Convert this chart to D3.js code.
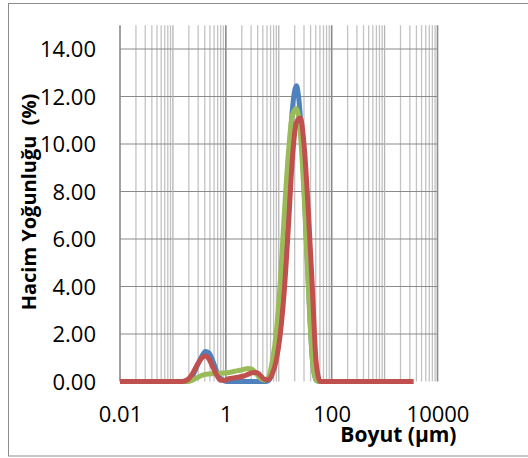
<!DOCTYPE html>
<html>
<head>
<meta charset="utf-8">
<script src="https://cdn.jsdelivr.net/npm/d3@7"></script>
<style>
  body { margin: 0; background: #fff; }
  svg { display: block; font-family: "Open Sans", sans-serif; }
</style>
</head>
<body>
<svg id="chart" width="528" height="458"></svg>
<script>
// particle sizes (µm) and volume density (%) per sample
const sizes = [0.01, 0.1, 0.15, 0.19, 0.23, 0.28, 0.34, 0.41, 0.48, 0.57, 0.68, 0.8, 0.95,
  1.15, 1.4, 1.7, 2.1, 2.6, 3.1, 3.7, 4.4, 5.3, 6.3, 7.5, 9, 10.7, 12.7, 15.2, 18, 21.5,
  25.5, 30.5, 36, 43, 51, 61, 72, 100, 1000, 3500];

const blueValues = [0, 0, 0, 0.02, 0.2, 0.6, 1.0, 1.26, 1.2, 0.85, 0.4, 0.12, 0.02,
  0, 0, 0, 0, 0, 0, 0, 0, 0, 0.03, 0.35, 1.3, 3.0, 5.6, 8.8, 11.4, 12.45,
  11.2, 7.9, 4.3, 1.0, 0.05, 0, 0, 0, 0, 0];

const greenValues = [0, 0, 0, 0, 0.05, 0.15, 0.24, 0.3, 0.32, 0.33, 0.34, 0.35, 0.36,
  0.38, 0.42, 0.46, 0.5, 0.55, 0.52, 0.35, 0.15, 0.05, 0.15, 0.8, 2.1, 4.2, 7.0, 9.6, 11.2, 11.5,
  10.5, 7.6, 4.1, 1.0, 0.05, 0, 0, 0, 0, 0];

const redValues = [0, 0, 0, 0.08, 0.3, 0.65, 0.95, 1.07, 0.95, 0.6, 0.25, 0.05, 0.05,
  0.12, 0.15, 0.18, 0.22, 0.3, 0.37, 0.38, 0.28, 0.1, 0.07, 0.3, 0.9, 2.0, 3.8, 6.5, 9.3, 10.9,
  11.1, 9.8, 7.3, 4.0, 0.8, 0, 0, 0, 0, 0];

const xTicks = [0.01, 1, 100, 10000];
const yTicks = [0, 2, 4, 6, 8, 10, 12, 14];

const series = [
  { name: 'blue', values: blueValues, color: '#4F81BD' },
  { name: 'green', values: greenValues, color: '#9BBB59' },
  { name: 'red', values: redValues, color: '#C0504D' }
];

const svg = d3.select('#chart');
const margin = { top: 25.25, left: 120, right: 90.5, bottom: 76.5 };
const width = 528 - margin.left - margin.right;
const height = 458 - margin.top - margin.bottom;

// chart frame
svg.append('rect')
  .attr('x', 8.5).attr('y', 3.5)
  .attr('width', 530).attr('height', 452.5)
  .attr('fill', 'none')
  .attr('stroke', '#8c8c8c')
  .attr('stroke-width', 1);

const g = svg.append('g')
  .attr('transform', `translate(${margin.left},${margin.top})`);

const x = d3.scaleLog().domain([0.01, 10000]).range([0, width]);
const y = d3.scaleLinear().domain([0, 15]).range([height, 0]);

// minor vertical grid
const minor = [];
for (let e = -2; e < 4; e++) {
  for (let k = 2; k <= 9; k++) minor.push(k * Math.pow(10, e));
}
g.append('g').selectAll('line')
  .data(minor)
  .join('line')
  .attr('x1', d => x(d)).attr('x2', d => x(d))
  .attr('y1', 0).attr('y2', height)
  .attr('stroke', '#c3c3c3')
  .attr('stroke-width', 1.3);

// horizontal grid
g.append('g').selectAll('line')
  .data(yTicks.slice(1))
  .join('line')
  .attr('x1', 0).attr('x2', width)
  .attr('y1', d => y(d)).attr('y2', d => y(d))
  .attr('stroke', '#8a8a8a')
  .attr('stroke-width', 1.2);

// major vertical grid
g.append('g').selectAll('line')
  .data([1e-2, 1e-1, 1, 10, 100, 1000, 10000])
  .join('line')
  .attr('x1', d => x(d)).attr('x2', d => x(d))
  .attr('y1', 0).attr('y2', height)
  .attr('stroke', d => (xTicks.includes(d) ? '#8a8a8a' : '#b5b5b5'))
  .attr('stroke-width', d => (xTicks.includes(d) ? 1.6 : 1.3));

// axes
const xAxis = d3.axisBottom(x).tickValues(xTicks).tickFormat(d => String(d)).tickSize(0).tickPadding(0);
const yAxis = d3.axisLeft(y).tickValues(yTicks).tickFormat(d3.format('.2f')).tickSize(0).tickPadding(0);

const xg = g.append('g').attr('transform', `translate(0,${height})`).call(xAxis);
xg.select('.domain').remove();
xg.selectAll('text')
  .attr('y', 40).attr('dy', 0)
  .attr('fill', '#000')
  .style('font-size', '22px')
  .style('font-family', '"Open Sans", sans-serif');

const yg = g.append('g').call(yAxis);
yg.select('.domain').remove();
yg.selectAll('text')
  .attr('x', -24).attr('dy', '0.35em')
  .attr('fill', '#000')
  .style('font-size', '22px')
  .style('font-family', '"Open Sans", sans-serif');

// series lines
const line = d3.line()
  .x((d, i) => x(sizes[i]))
  .y(d => y(d))
  .curve(d3.curveMonotoneX);

g.append('g').selectAll('path')
  .data(series)
  .join('path')
  .attr('d', d => line(d.values))
  .attr('fill', 'none')
  .attr('stroke', d => d.color)
  .attr('stroke-width', 5)
  .attr('stroke-linejoin', 'round')
  .attr('stroke-linecap', 'butt');

// axis titles
svg.append('text')
  .attr('x', 456.5).attr('y', 441.5)
  .attr('text-anchor', 'end')
  .style('font-size', '21px')
  .style('font-weight', 700)
  .text('Boyut (µm)');

svg.append('text')
  .attr('transform', 'translate(36,202) rotate(-90)')
  .attr('text-anchor', 'middle')
  .style('font-size', '20px')
  .style('font-weight', 700)
  .style('white-space', 'pre')
  .text('Hacim Yoğunluğu  (%)');
</script>
</body>
</html>
